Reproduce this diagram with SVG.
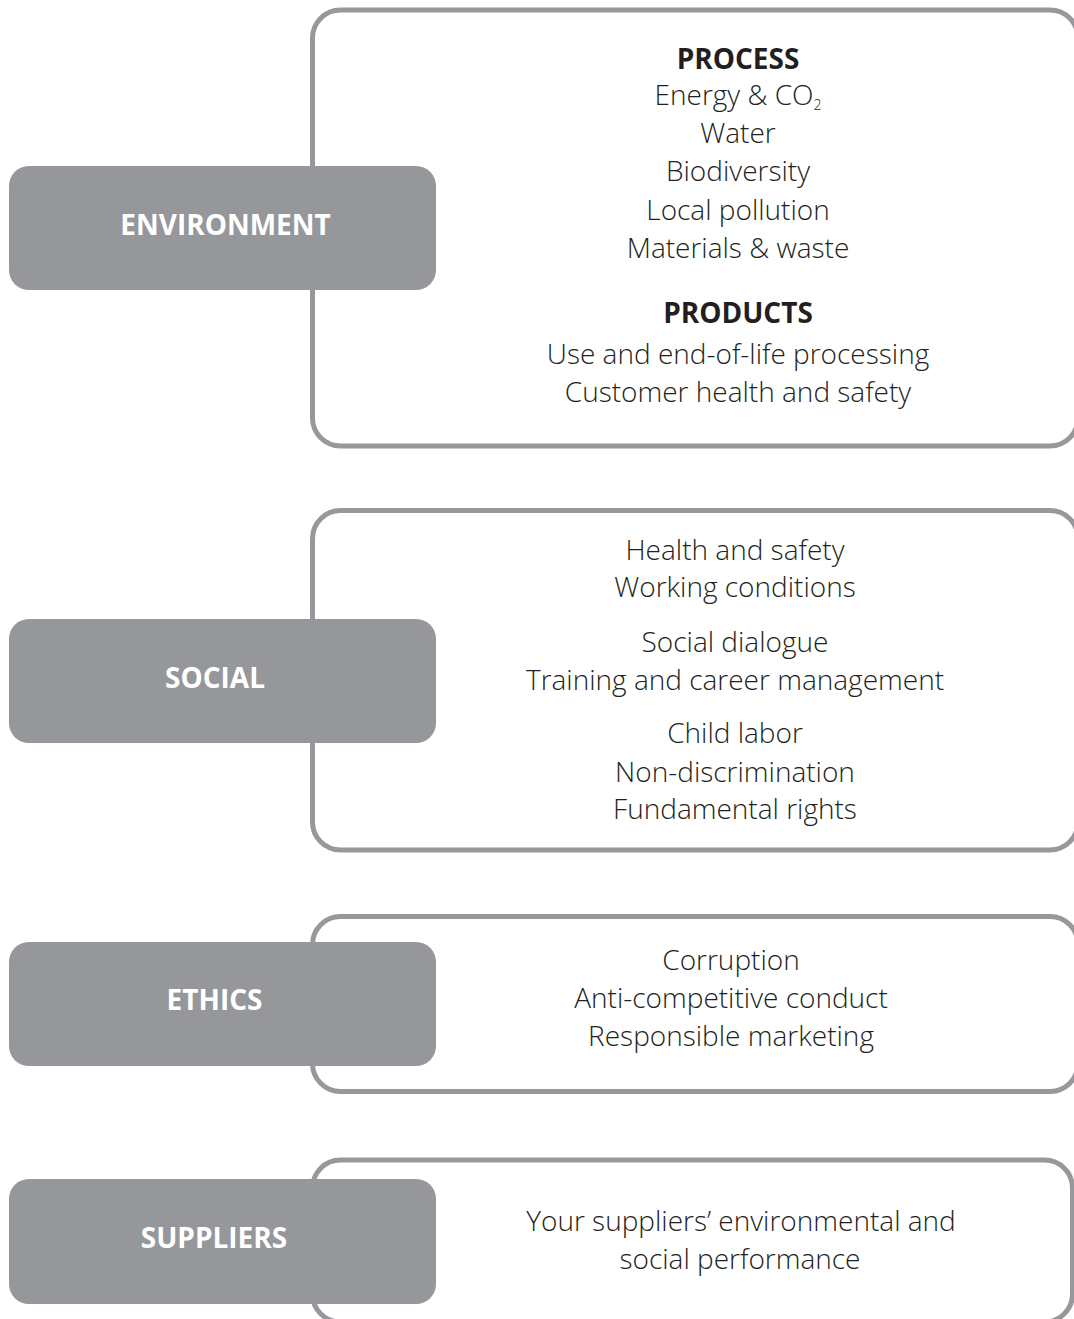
<svg xmlns="http://www.w3.org/2000/svg" width="1074" height="1319" viewBox="0 0 1074 1319">
<style>
.frame{fill:none;stroke:#97989c;stroke-width:5}
.lab{fill:#96979b}
.lt{font-family:"Open Sans","Noto Sans","Liberation Sans",sans-serif;font-weight:700;font-size:28px;fill:#ffffff;text-anchor:middle}
.t{font-family:"Open Sans","Noto Sans","Liberation Sans",sans-serif;font-weight:300;font-size:28px;fill:#231f20;text-anchor:middle}
.h{font-family:"Open Sans","Noto Sans","Liberation Sans",sans-serif;font-weight:700;font-size:28px;fill:#231f20;text-anchor:middle}
</style>
<rect width="1074" height="1319" fill="#ffffff"/>
<g id="frames">
<rect id="frame-environment" class="frame" x="312.5" y="10" width="765.5" height="436" rx="28" ry="28"/>
<rect id="frame-social" class="frame" x="312.5" y="510.5" width="765.5" height="339.5" rx="28" ry="28"/>
<rect id="frame-ethics" class="frame" x="312.5" y="916.5" width="765.5" height="175" rx="28" ry="28"/>
<rect id="frame-suppliers" class="frame" x="312.5" y="1160" width="760" height="162" rx="28" ry="28"/>
</g>
<g id="environment">
<rect class="lab" x="9" y="166" width="427" height="124" rx="20" ry="20"/>
<text class="lt" x="225.5" y="235">ENVIRONMENT</text>
<text class="h" x="738" y="69">PROCESS</text>
<text class="t" x="738" y="105">Energy &amp; CO<tspan font-size="14" dy="5">2</tspan></text>
<text class="t" x="738" y="143">Water</text>
<text class="t" x="738" y="181">Biodiversity</text>
<text class="t" x="738" y="220">Local pollution</text>
<text class="t" x="738" y="258">Materials &amp; waste</text>
<text class="h" x="738" y="323">PRODUCTS</text>
<text class="t" x="738" y="364">Use and end-of-life processing</text>
<text class="t" x="738" y="402">Customer health and safety</text>
</g>
<g id="social">
<rect class="lab" x="9" y="619" width="427" height="124" rx="20" ry="20"/>
<text class="lt" x="215" y="688">SOCIAL</text>
<text class="t" x="735" y="560">Health and safety</text>
<text class="t" x="735" y="597">Working conditions</text>
<text class="t" x="735" y="652">Social dialogue</text>
<text class="t" x="735" y="690">Training and career management</text>
<text class="t" x="735" y="743">Child labor</text>
<text class="t" x="735" y="782">Non-discrimination</text>
<text class="t" x="735" y="819">Fundamental rights</text>
</g>
<g id="ethics">
<rect class="lab" x="9" y="942" width="427" height="124" rx="20" ry="20"/>
<text class="lt" x="214.5" y="1010">ETHICS</text>
<text class="t" x="731" y="970">Corruption</text>
<text class="t" x="731" y="1008">Anti-competitive conduct</text>
<text class="t" x="731" y="1046">Responsible marketing</text>
</g>
<g id="suppliers">
<rect class="lab" x="9" y="1179" width="427" height="125" rx="20" ry="20"/>
<text class="lt" x="214" y="1248">SUPPLIERS</text>
<text class="t" x="741" y="1231">Your suppliers’ environmental and</text>
<text class="t" x="740" y="1269">social performance</text>
</g>
<g id="connectors"></g>
</svg>
